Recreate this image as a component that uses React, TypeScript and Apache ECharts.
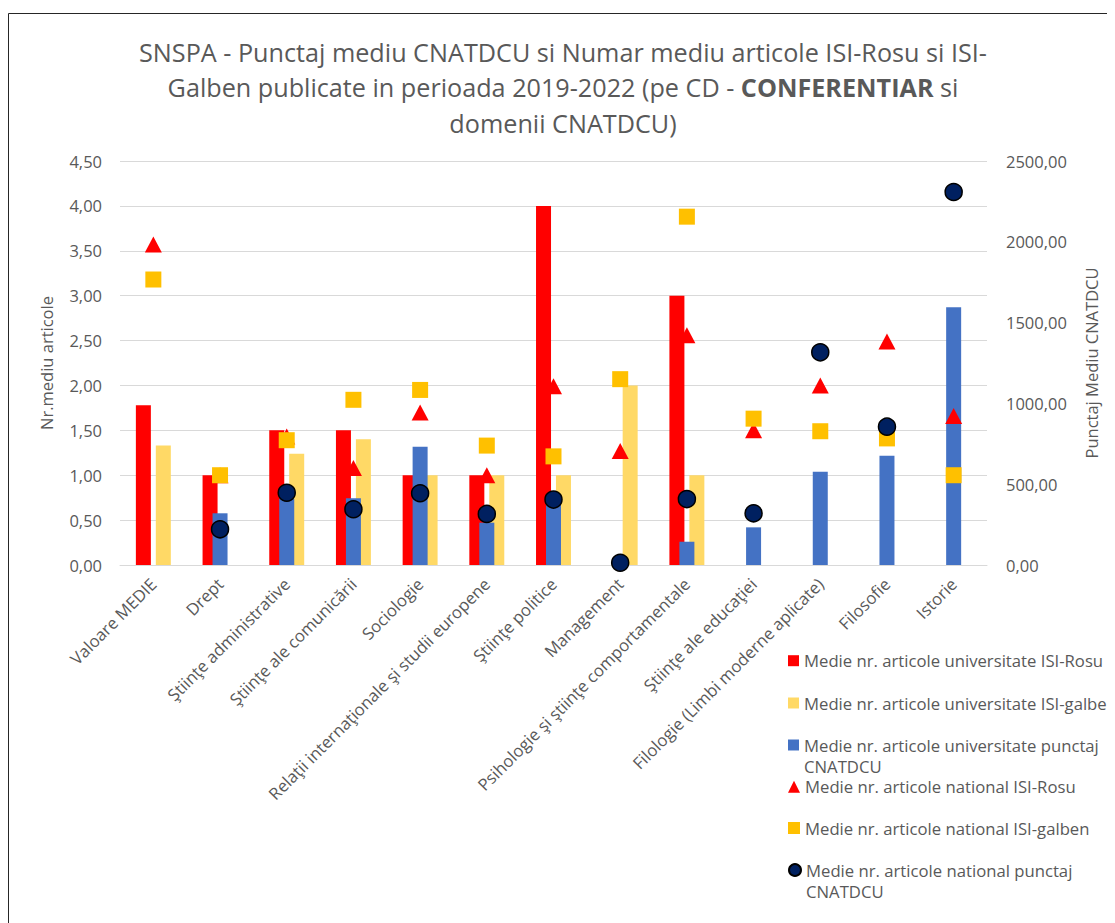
import React, { useEffect, useRef } from "react";
import * as echarts from "echarts";

const categories = [
  "Valoare MEDIE",
  "Drept",
  "Ştiinţe administrative",
  "Ştiinţe ale comunicării",
  "Sociologie",
  "Relaţii internaţionale şi studii europene",
  "Ştiinţe politice",
  "Management",
  "Psihologie şi ştiinţe comportamentale",
  "Ştiinţe ale educaţiei",
  "Filologie (Limbi moderne aplicate)",
  "Filosofie",
  "Istorie",
];

const univRosu = [1.78, 1.0, 1.5, 1.5, 1.0, 1.0, 4.0, null, 3.0, null, null, null, null];
const univGalben = [1.33, null, 1.24, 1.4, 1.0, 1.0, 1.0, 2.0, 1.0, null, null, null, null];
const univPunctaj = [null, 320, 410, 413, 732, 262, 385, null, 144, 233, 577, 676, 1595];
const natRosu = [3.57, 1.0, 1.43, 1.08, 1.7, 1.0, 1.99, 1.27, 2.56, 1.5, 2.0, 2.49, 1.66];
const natGalben = [3.18, 1.0, 1.39, 1.84, 1.95, 1.33, 1.21, 2.07, 3.88, 1.63, 1.49, 1.41, 1.0];
const natPunctaj = [null, 221, 447, 345, 444, 316, 405, 14, 408, 320, 1316, 856, 2308];

const leftTicks = { min: 0, max: 4.5, interval: 0.5 };
const rightTicks = { min: 0, max: 2500, interval: 500 };

const names = [
  "Medie nr. articole universitate ISI-Rosu",
  "Medie nr. articole universitate ISI-galben",
  "Medie nr. articole universitate punctaj CNATDCU",
  "Medie nr. articole national ISI-Rosu",
  "Medie nr. articole national ISI-galben",
  "Medie nr. articole national punctaj CNATDCU",
];

const FONT = '"Open Sans", sans-serif';
const GREY = "#595959";
const fmt = (v: number) => v.toFixed(2).replace(".", ",");

export default function App() {
  const ref = useRef<HTMLDivElement>(null);
  useEffect(() => {
    if (!ref.current) return;
    const chart = echarts.init(ref.current, undefined, { renderer: "svg" });
    const singleText = { color: GREY, fontSize: 16.7, fontFamily: FONT, lineHeight: 18 };
    const wrapText = { color: GREY, fontSize: 16.7, fontFamily: FONT, lineHeight: 21 };
    const wrap = (n: string) => "\u00a0\n" + n.replace(" CNATDCU", "\nCNATDCU");
    const mkLegend = (i: number, top: number, size: number, wrapped: boolean, icon?: string) => ({
      data: [names[i]],
      left: 780,
      top,
      padding: 0,
      itemWidth: size,
      itemHeight: size,
      icon,
      selectedMode: false,
      textStyle: wrapped ? wrapText : singleText,
      formatter: wrapped ? wrap : undefined,
    });
    const titleBase = { fontSize: 25.2, color: GREY, fontFamily: FONT, lineHeight: 35.5 };
    chart.setOption({
      animation: false,
      textStyle: { fontFamily: FONT },
      title: {
        left: 550,
        textAlign: "center",
        top: 21,
        text:
          "{n|SNSPA - Punctaj mediu CNATDCU si Numar mediu articole ISI-Rosu si ISI-}\n" +
          "{n|Galben publicate in perioada 2019-2022 (pe CD - }{b|CONFERENTIAR}{n| si}\n" +
          "{n|domenii CNATDCU)}",
        textStyle: {
          fontWeight: "normal",
          color: GREY,
          rich: {
            n: { ...titleBase, fontWeight: "normal" },
            b: { ...titleBase, fontWeight: "bold" },
          },
        },
      },
      graphic: [
        { type: "line", shape: { x1: 0.5, y1: 5.5, x2: 1107, y2: 5.5 }, style: { stroke: "#262626", lineWidth: 1 } },
        { type: "line", shape: { x1: 0.5, y1: 5.5, x2: 0.5, y2: 915 }, style: { stroke: "#262626", lineWidth: 1 } },
      ],
      legend: [
        mkLegend(0, 643.7, 11, false, "rect"),
        mkLegend(1, 686, 11, false, "rect"),
        mkLegend(2, 705.5, 11, true, "rect"),
        mkLegend(3, 769.7, 12, false),
        mkLegend(4, 811, 12, false),
        mkLegend(5, 830.5, 12, true),
      ],
      grid: { left: 112, top: 153, width: 867, height: 404 },
      xAxis: [
        {
          type: "category",
          data: categories,
          axisTick: { show: false },
          axisLine: { lineStyle: { color: "#d9d9d9", width: 1 } },
          axisLabel: { interval: 0, rotate: 45, color: GREY, fontSize: 16.7, margin: 16, fontFamily: FONT },
        },
        { type: "category", data: categories, show: false },
      ],
      yAxis: [
        {
          type: "value",
          ...leftTicks,
          name: "Nr.mediu articole",
          nameLocation: "middle",
          nameRotate: 90,
          nameGap: 65,
          nameTextStyle: { color: GREY, fontSize: 16.5, fontFamily: FONT },
          axisLabel: { color: GREY, fontSize: 16.5, margin: 18, formatter: fmt, fontFamily: FONT },
          splitLine: { lineStyle: { color: "#d9d9d9", width: 1 } },
          axisLine: { show: false },
          axisTick: { show: false },
        },
        {
          type: "value",
          position: "right",
          ...rightTicks,
          name: "Punctaj Mediu CNATDCU",
          nameLocation: "middle",
          nameRotate: 90,
          nameGap: 96,
          nameTextStyle: { color: GREY, fontSize: 16.5, fontFamily: FONT },
          axisLabel: { color: GREY, fontSize: 16.5, margin: 19, formatter: fmt, fontFamily: FONT },
          splitLine: { show: false },
          axisLine: { show: false },
          axisTick: { show: false },
        },
      ],
      series: [
        {
          name: names[0],
          type: "bar",
          xAxisIndex: 0,
          yAxisIndex: 0,
          data: univRosu,
          barWidth: 15,
          barGap: "33%",
          itemStyle: { color: "#FF0000" },
        },
        {
          name: names[1],
          type: "bar",
          xAxisIndex: 0,
          yAxisIndex: 0,
          data: univGalben,
          barWidth: 15,
          barGap: "33%",
          itemStyle: { color: "#FFD966" },
        },
        {
          name: names[2],
          type: "bar",
          xAxisIndex: 1,
          yAxisIndex: 1,
          data: univPunctaj,
          barWidth: 15,
          itemStyle: { color: "#4472C4" },
        },
        {
          name: names[3],
          type: "scatter",
          xAxisIndex: 0,
          yAxisIndex: 0,
          data: natRosu,
          symbol: "triangle",
          symbolSize: [17, 16],
          itemStyle: { color: "#FF0000", opacity: 1 },
        },
        {
          name: names[4],
          type: "scatter",
          xAxisIndex: 0,
          yAxisIndex: 0,
          data: natGalben,
          symbol: "rect",
          symbolSize: 16,
          itemStyle: { color: "#FFC000", opacity: 1 },
        },
        {
          name: names[5],
          type: "scatter",
          xAxisIndex: 0,
          yAxisIndex: 1,
          data: natPunctaj,
          symbol: "circle",
          symbolSize: 17,
          itemStyle: { color: "#002060", borderColor: "#000000", borderWidth: 1.5, opacity: 1 },
        },
      ],
    });
    return () => chart.dispose();
  }, []);
  return <div ref={ref} style={{ width: 1107, height: 915 }} />;
}
